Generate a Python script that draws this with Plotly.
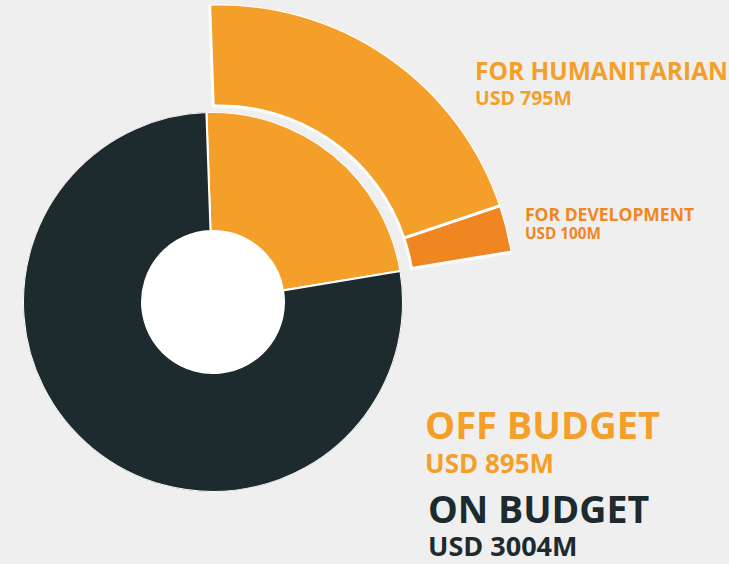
import math
import plotly.graph_objects as go

# ---- data (USD million) ----
budget_labels = ["OFF BUDGET", "ON BUDGET"]
budget_values = [895, 3004]
off_labels = ["FOR HUMANITARIAN", "FOR DEVELOPMENT"]
off_values = [795, 100]

# ---- styling / geometry ----
W, H = 729, 564
BG = "#EFEFEF"
ORANGE = "#F49F2A"
DEV_ORANGE = "#EF8622"
DARK = "#1D2B2F"
START = -2.0  # degrees clockwise from 12 o'clock

total = sum(budget_values)
deg_per_unit = 360.0 / total


def spans(values, start):
    thetas, widths = [], []
    a = start
    for v in values:
        w = v * deg_per_unit
        thetas.append(a + w / 2)
        widths.append(w)
        a += w
    return thetas, widths


inner_theta, inner_width = spans(budget_values, START)
outer_theta, outer_width = spans(off_values, START)

# inner donut (full circle)
C1x, C1y, R1, HOLE1 = 213, 302, 190, 71
# outer ring (sector)
C2x, C2y, R2, HOLE2 = 220, 300, 296, 194
SECTOR = [0, 95]
bx0 = min(0, math.cos(math.radians(SECTOR[1])))

fig = go.Figure()

fig.add_trace(go.Barpolar(
    theta=inner_theta, width=inner_width,
    r=[R1 - HOLE1] * len(budget_values), base=[HOLE1] * len(budget_values),
    marker=dict(color=[ORANGE, DARK], line=dict(color="white", width=2)),
    text=budget_labels, hoverinfo="text", subplot="polar",
))

fig.add_trace(go.Barpolar(
    theta=outer_theta, width=outer_width,
    r=[R2 - HOLE2] * len(off_values), base=[HOLE2] * len(off_values),
    marker=dict(color=[ORANGE, DEV_ORANGE], line=dict(color="white", width=3)),
    text=off_labels, hoverinfo="text", subplot="polar2",
))

fig.update_layout(
    width=W, height=H,
    margin=dict(l=0, r=0, t=0, b=0),
    paper_bgcolor=BG, plot_bgcolor=BG,
    showlegend=False,
    polar=dict(
        domain=dict(x=[(C1x - R1) / W, (C1x + R1) / W],
                    y=[1 - (C1y + R1) / H, 1 - (C1y - R1) / H]),
        bgcolor="white",
        radialaxis=dict(range=[0, R1], visible=False, showgrid=False),
        angularaxis=dict(rotation=90, direction="clockwise", visible=False,
                         showgrid=False),
    ),
    polar2=dict(
        domain=dict(x=[(C2x + bx0 * R2) / W, (C2x + R2) / W],
                    y=[1 - C2y / H, 1 - (C2y - R2) / H]),
        sector=SECTOR,
        bgcolor="rgba(0,0,0,0)",
        radialaxis=dict(range=[0, R2], visible=False, showgrid=False),
        angularaxis=dict(rotation=90, direction="clockwise", visible=False,
                         showgrid=False),
    ),
)


def label(title, sub, x, top, gap, s1, s2, color):
    text = ('<span style="font-size:%.1fpx">%s</span><br>'
            '<span style="font-size:%.1fpx">%s</span>' % (s1, title, s2, sub))
    fig.add_annotation(
        text=text, x=x / W, y=1 - top / H, xref="paper", yref="paper",
        xanchor="left", yanchor="top", align="left", showarrow=False,
        font=dict(family="Open Sans", size=gap / 1.3, color=color,
                  weight="bold"),
    )


label(off_labels[0], "USD %dM" % off_values[0], 473, 52, 25, 24.5, 19.5, ORANGE)
label(off_labels[1], "USD %dM" % off_values[1], 523, 200, 18, 17.5, 15.3,
      DEV_ORANGE)
label(budget_labels[0], "USD %dM" % budget_values[0], 423, 396, 34, 38, 26,
      ORANGE)
label(budget_labels[1], "USD %dM" % budget_values[1], 426, 481, 33, 37.5, 27,
      DARK)

fig.write_html("out.html",
               config={"displayModeBar": False},
               post_script="document.body.style.margin='0';"
                           "document.body.style.overflow='hidden';")
